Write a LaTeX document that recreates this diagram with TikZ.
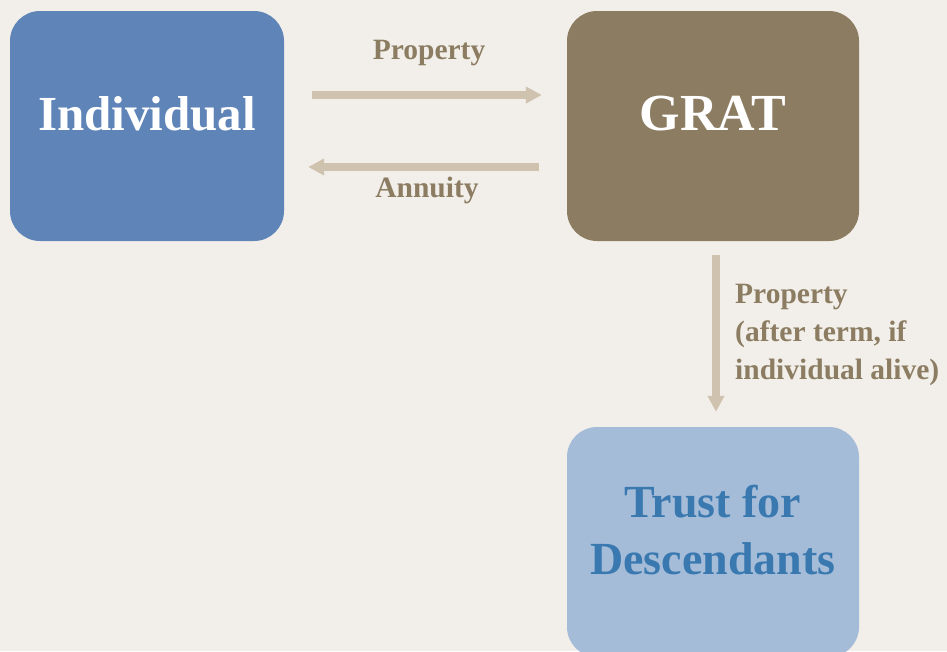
\documentclass[tikz,border=0pt]{standalone}
\usepackage{fontspec}
\setmainfont{Liberation Serif}
\usetikzlibrary{arrows.meta}
\definecolor{bg}{HTML}{F2EFEA}
\definecolor{indblue}{HTML}{5E84B8}
\definecolor{gratbrown}{HTML}{8C7D62}
\definecolor{trustblue}{HTML}{A5BCD9}
\definecolor{trusttext}{HTML}{3A79B0}
\definecolor{arrowtan}{HTML}{CFC3B0}
\definecolor{labeltan}{HTML}{8C7D62}
\tikzset{
  box/.style={rounded corners=30pt, minimum height=230pt, inner sep=0pt},
  boxtext/.style={inner sep=0pt, align=center, font=\bfseries},
  flow/.style={draw=arrowtan, line width=7.5pt, -{Triangle[length=16pt,width=16pt]}},
  lbl/.style={text=labeltan, font=\fontsize{29.5}{38}\selectfont\bfseries, inner sep=0pt},
}
\begin{document}
\begin{tikzpicture}[x=1pt,y=1pt]
\clip (0,0) rectangle (947,-651);
\fill[bg] (0,0) rectangle (947,-651);
\node[box, fill=indblue, minimum width=274pt] (ind) at (147,-126) {};
\node[box, fill=gratbrown, minimum width=292pt] (grat) at (713,-126) {};
\node[box, fill=trustblue, minimum width=292pt] (trust) at (713,-542) {};
\node[boxtext, text=white, font=\fontsize{49}{56}\selectfont\bfseries] (indtxt) at ([yshift=12pt]ind.center) {Individual};
\node[boxtext, text=white, font=\fontsize{52}{58}\selectfont\bfseries] (grattxt) at ([yshift=12pt]grat.center) {GRAT};
\node[boxtext, text=trusttext, font=\fontsize{46}{57}\selectfont\bfseries, anchor=north] (trusttxt) at ([yshift=-58pt]trust.north) {Trust for\\Descendants};
\draw[flow] ([xshift=28pt,yshift=31pt]ind.east) -- ([xshift=-25pt,yshift=31pt]grat.west);
\draw[flow] ([xshift=-28pt,yshift=-41pt]grat.west) -- ([xshift=24pt,yshift=-41pt]ind.east);
\draw[flow] ([xshift=3pt,yshift=-14pt]grat.south) -- ([xshift=3pt,yshift=15pt]trust.north);
\node[lbl] (lprop) at (429,-53) {Property};
\node[lbl] (lann) at (427,-190) {Annuity};
\node[lbl, anchor=north west, align=left] (lterm) at (735,-284) {Property\\(after term, if\\individual alive)};
\end{tikzpicture}
\end{document}
